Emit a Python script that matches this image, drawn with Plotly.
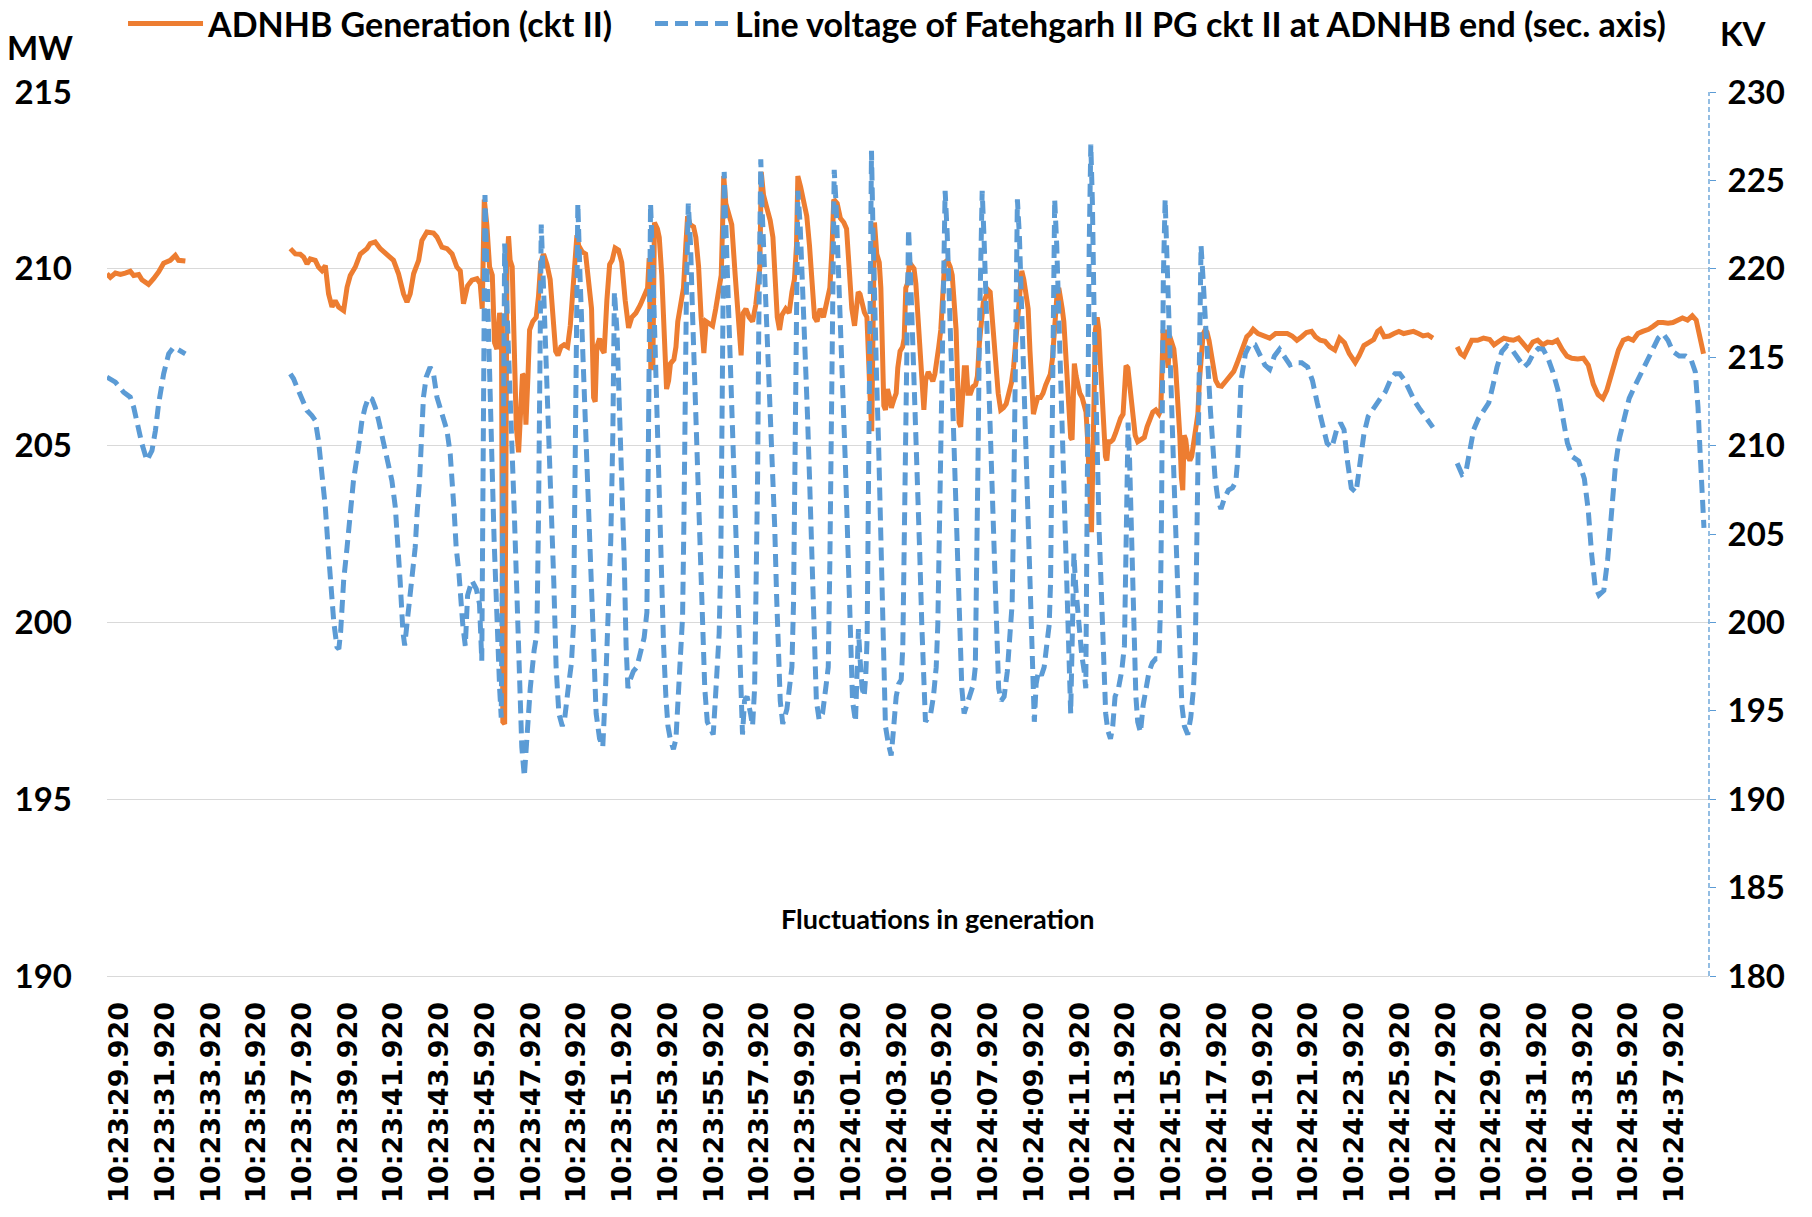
import plotly.graph_objects as go

# time in seconds after 10:22:59.520, None marks a gap in the record
gen_t = [
    29.86, 30.01, 30.23, 30.45, 30.66, 30.88, 31.03, 31.25, 31.39, 31.61, 31.68, 31.90, 32.12, 32.34, 32.63, 32.85, 32.99, 33.29,
    None,
    37.88, 38.10, 38.31, 38.46, 38.61, 38.75, 38.97, 39.11, 39.26, 39.41, 39.55, 39.70, 39.84, 39.99, 40.21, 40.36, 40.50, 40.72,
    40.94, 41.23, 41.37, 41.59, 41.81, 42.10, 42.39, 42.61, 42.83, 42.98, 43.12, 43.27, 43.49, 43.63, 43.85, 44.14, 44.29, 44.51,
    44.73, 44.95, 45.16, 45.31, 45.45, 45.63, 45.82, 46.04, 46.18, 46.27, 46.36, 46.47, 46.59, 46.71, 46.81, 46.91, 47.03, 47.11,
    47.17, 47.25, 47.29, 47.35, 47.42, 47.49, 47.58, 47.67, 47.76, 47.86, 47.96, 48.03, 48.11, 48.18, 48.27, 48.34, 48.48, 48.63,
    48.73, 48.83, 48.95, 49.10, 49.24, 49.36, 49.48, 49.58, 49.71, 49.85, 50.00, 50.12, 50.23, 50.33, 50.41, 50.49, 50.64, 50.79,
    50.93, 51.05, 51.14, 51.21, 51.28, 51.40, 51.50, 51.60, 51.72, 51.84, 51.95, 52.08, 52.23, 52.37, 52.52, 52.67, 52.81, 52.99,
    53.18, 53.35, 53.50, 53.57, 53.64, 53.73, 53.80, 53.93, 54.01, 54.12, 54.23, 54.33, 54.42, 54.50, 54.65, 54.74, 54.82, 54.94,
    55.07, 55.17, 55.25, 55.36, 55.51, 55.61, 55.73, 55.84, 55.96, 56.06, 56.21, 56.34, 56.48, 56.63, 56.72, 56.78, 56.83, 56.92,
    57.04, 57.18, 57.33, 57.48, 57.59, 57.68, 57.80, 57.94, 58.09, 58.23, 58.35, 58.41, 58.47, 58.57, 58.71, 58.86, 58.98, 59.08,
    59.17, 59.27, 59.37, 59.54, 59.69, 59.81, 59.92, 60.01, 60.07, 60.19, 60.32, 60.46, 60.58, 60.68, 60.80, 60.91, 61.04, 61.19,
    61.34, 61.47, 61.56, 61.64, 61.79, 61.93, 62.08, 62.20, 62.31, 62.43, 62.55, 62.62, 62.71, 62.79, 62.88, 62.98, 63.09, 63.16,
    63.23, 63.30, 63.36, 63.42, 63.52, 63.63, 63.70, 63.76, 63.83, 63.90, 63.99, 64.08, 64.16, 64.27, 64.37, 64.44, 64.54, 64.65,
    64.72, 64.79, 64.86, 64.95, 65.07, 65.15, 65.23, 65.30, 65.39, 65.48, 65.58, 65.66, 65.77, 65.87, 65.97, 66.06, 66.14, 66.23,
    66.32, 66.41, 66.49, 66.61, 66.73, 66.82, 66.90, 66.99, 67.05, 67.12, 67.19, 67.27, 67.35, 67.44, 67.51, 67.62, 67.72, 67.84,
    67.92, 68.01, 68.10, 68.18, 68.30, 68.39, 68.48, 68.56, 68.65, 68.74, 68.83, 68.94, 69.06, 69.18, 69.29, 69.41, 69.50, 69.57,
    69.64, 69.71, 69.79, 69.86, 69.95, 70.05, 70.14, 70.22, 70.30, 70.37, 70.46, 70.56, 70.68, 70.79, 70.91, 71.11, 71.20, 71.26,
    71.33, 71.41, 71.48, 71.55, 71.63, 71.70, 71.77, 71.84, 71.92, 72.00, 72.06, 72.12, 72.16, 72.24, 72.31, 72.40, 72.50, 72.59,
    72.67, 72.73, 72.79, 72.85, 72.91, 72.97, 73.02, 73.08, 73.16, 73.23, 73.30, 73.37, 73.45, 73.52, 73.58, 73.65, 73.75, 73.85,
    73.96, 74.06, 74.18, 74.29, 74.36, 74.42, 74.50, 74.57, 74.64, 74.73, 74.82, 74.93, 75.08, 75.22, 75.34, 75.46, 75.59, 75.72,
    75.86, 75.94, 75.98, 76.04, 76.11, 76.19, 76.26, 76.33, 76.42, 76.51, 76.59, 76.68, 76.77, 76.84, 76.90, 76.96, 77.03, 77.12,
    77.21, 77.29, 77.38, 77.47, 77.56, 77.63, 77.70, 77.79, 77.88, 77.96, 78.05, 78.14, 78.24, 78.34, 78.46, 78.60, 78.78, 78.95,
    79.13, 79.27, 79.42, 79.57, 79.70, 79.85, 79.98, 80.19, 80.45, 80.70, 80.96, 81.21, 81.47, 81.68, 81.89, 82.10, 82.31, 82.53,
    82.70, 82.91, 83.12, 83.33, 83.55, 83.76, 83.97, 84.18, 84.44, 84.61, 84.82, 85.03, 85.25, 85.42, 85.54, 85.71, 85.93, 86.14,
    86.35, 86.56, 86.78, 86.99, 87.20, 87.41, 87.62, 87.84,
    None,
    88.90, 89.05, 89.20, 89.37, 89.54, 89.79, 90.05, 90.32, 90.51, 90.73, 90.94, 91.15, 91.36, 91.58, 91.79, 92.00, 92.21, 92.42,
    92.64, 92.85, 93.06, 93.27, 93.49, 93.70, 93.91, 94.17, 94.42, 94.63, 94.85, 95.06, 95.27, 95.44, 95.61, 95.78, 95.95, 96.16,
    96.38, 96.59, 96.80, 97.01, 97.27, 97.48, 97.69, 97.90, 98.12, 98.33, 98.54, 98.75, 98.97, 99.18, 99.35, 99.52, 99.67,
]
gen_mw = [
    209.86, 209.76, 209.88, 209.84, 209.88, 209.93, 209.81, 209.84, 209.69, 209.59, 209.56, 209.72, 209.91, 210.16, 210.24, 210.38, 210.24, 210.22,
    None,
    210.57, 210.42, 210.41, 210.33, 210.14, 210.28, 210.24, 210.05, 209.95, 210.09, 209.29, 208.92, 209.10, 208.92, 208.82, 209.48, 209.81, 210.05,
    210.42, 210.57, 210.71, 210.76, 210.57, 210.42, 210.24, 209.86, 209.29, 209.06, 209.29, 209.86, 210.24, 210.80, 211.04, 211.01, 210.90, 210.61,
    210.57, 210.42, 210.05, 209.94, 209.01, 209.52, 209.68, 209.72, 209.58, 208.87, 211.96, 211.25, 210.06, 209.82, 207.91, 207.73, 208.75, 208.51,
    197.19, 197.13, 207.67, 210.06, 210.92, 210.24, 210.06, 207.44, 205.53, 204.81, 206.48, 207.02, 206.96, 205.59, 206.96, 208.27, 208.51, 208.63,
    209.22, 210.18, 210.42, 210.12, 209.70, 208.87, 207.67, 207.55, 207.79, 207.85, 207.79, 208.39, 209.46, 210.30, 210.95, 210.65, 210.48, 210.42,
    209.58, 208.87, 206.36, 206.24, 207.79, 208.03, 207.73, 207.62, 209.11, 210.12, 210.24, 210.59, 210.53, 210.18, 209.11, 208.33, 208.63, 208.75,
    208.98, 209.28, 209.46, 210.30, 207.20, 207.20, 211.31, 211.13, 210.89, 209.82, 207.91, 206.60, 206.84, 207.32, 207.44, 207.79, 208.51, 208.98,
    209.46, 210.65, 211.49, 211.25, 211.19, 210.89, 210.06, 208.63, 207.62, 208.51, 208.45, 208.39, 208.87, 209.58, 209.82, 211.25, 212.62, 211.85,
    211.61, 211.25, 209.82, 208.51, 207.55, 208.75, 208.87, 208.63, 208.51, 208.98, 209.58, 210.06, 212.74, 212.08, 211.73, 211.37, 210.89, 209.82,
    208.63, 208.27, 208.69, 208.87, 208.75, 209.34, 209.70, 210.65, 212.62, 212.32, 211.85, 211.49, 210.65, 209.58, 208.63, 208.51, 208.87, 208.63,
    209.05, 209.46, 210.53, 211.96, 211.85, 211.43, 211.31, 211.13, 210.06, 208.87, 208.39, 208.87, 209.34, 209.28, 208.98, 208.77, 208.63, 206.96,
    206.36, 205.41, 208.87, 211.31, 210.42, 210.18, 209.46, 207.67, 206.13, 206.01, 206.60, 206.36, 206.07, 206.30, 206.48, 207.20, 207.67, 207.79,
    208.03, 209.46, 209.58, 210.18, 210.06, 210.00, 209.58, 208.75, 207.67, 206.60, 206.01, 206.84, 207.08, 206.96, 206.82, 207.02, 207.32, 207.79,
    208.27, 209.34, 210.18, 210.24, 210.06, 209.82, 209.11, 208.27, 206.96, 205.65, 205.53, 206.60, 207.20, 207.20, 206.48, 206.48, 206.66, 206.72,
    206.96, 207.91, 208.75, 209.05, 209.22, 209.40, 209.34, 208.63, 208.03, 207.32, 206.48, 206.01, 206.07, 206.18, 206.42, 206.78, 207.20, 207.67,
    208.27, 208.63, 209.34, 209.94, 209.70, 209.22, 208.87, 207.67, 206.48, 205.89, 206.13, 206.36, 206.36, 206.48, 206.72, 207.02, 207.44, 208.15,
    208.87, 209.34, 209.46, 209.22, 208.87, 208.51, 207.67, 206.72, 205.89, 205.23, 205.17, 206.24, 207.32, 206.96, 206.66, 206.48, 206.36, 206.18,
    205.95, 205.29, 204.10, 202.91, 202.55, 204.58, 206.96, 208.27, 208.63, 208.27, 207.32, 206.36, 205.41, 204.69, 204.58, 205.11, 205.11, 205.17,
    205.35, 205.59, 205.77, 205.89, 206.48, 207.26, 207.20, 206.84, 206.36, 205.77, 205.29, 205.11, 205.17, 205.23, 205.53, 205.71, 205.95, 206.01,
    205.89, 206.01, 207.44, 208.21, 208.21, 207.67, 207.20, 208.09, 207.91, 207.73, 207.20, 206.36, 205.29, 204.10, 203.74, 205.29, 205.17, 204.69,
    204.58, 204.69, 205.05, 205.41, 205.89, 206.84, 207.67, 208.15, 208.27, 208.21, 207.97, 207.61, 207.14, 206.84, 206.70, 206.68, 206.82, 206.96,
    207.10, 207.32, 207.61, 207.91, 208.08, 208.17, 208.29, 208.17, 208.10, 208.04, 208.17, 208.17, 208.17, 208.10, 207.98, 208.08, 208.20, 208.23,
    208.08, 207.98, 207.95, 207.79, 207.70, 208.04, 207.91, 207.60, 207.35, 207.54, 207.83, 207.91, 208.00, 208.23, 208.29, 208.08, 208.10, 208.17,
    208.23, 208.17, 208.20, 208.23, 208.17, 208.10, 208.13, 208.04,
    None,
    207.79, 207.60, 207.53, 207.79, 207.98, 207.98, 208.04, 208.00, 207.85, 207.95, 208.04, 208.00, 207.98, 208.04, 207.88, 207.72, 207.93, 207.98,
    207.85, 207.93, 207.91, 207.98, 207.72, 207.53, 207.47, 207.45, 207.47, 207.28, 206.74, 206.44, 206.33, 206.56, 206.94, 207.28, 207.70, 207.98,
    208.04, 207.98, 208.17, 208.23, 208.29, 208.38, 208.48, 208.48, 208.46, 208.48, 208.55, 208.61, 208.55, 208.67, 208.55, 208.10, 207.60,
]

volt_t = [
    29.86, 30.23, 30.59, 30.88, 31.03, 31.18, 31.39, 31.61, 31.83, 31.98, 32.12, 32.34, 32.56, 32.78, 32.99, 33.29,
    None,
    37.88, 38.02, 38.17, 38.39, 38.61, 38.82, 38.97, 39.11, 39.26, 39.41, 39.55, 39.62, 39.78, 39.92, 40.00, 40.08, 40.21, 40.36,
    40.50, 40.64, 40.86, 41.01, 41.15, 41.30, 41.45, 41.59, 41.74, 41.88, 42.03, 42.17, 42.32, 42.47, 42.54, 42.61, 42.68, 42.80,
    42.88, 42.97, 43.20, 43.34, 43.42, 43.53, 43.63, 43.70, 43.82, 43.99, 44.14, 44.29, 44.51, 44.73, 44.87, 44.97, 45.05, 45.13,
    45.25, 45.42, 45.53, 45.63, 45.82, 46.01, 46.15, 46.25, 46.30, 46.33, 46.39, 46.47, 46.59, 46.69, 46.79, 46.91, 47.03, 47.10,
    47.16, 47.20, 47.25, 47.35, 47.46, 47.57, 47.67, 47.78, 47.90, 48.00, 48.11, 48.22, 48.37, 48.54, 48.66, 48.73, 48.79, 48.85,
    48.95, 49.07, 49.18, 49.30, 49.40, 49.50, 49.62, 49.77, 49.88, 50.03, 50.17, 50.26, 50.32, 50.38, 50.45, 50.55, 50.67, 50.79,
    50.90, 51.02, 51.14, 51.25, 51.40, 51.54, 51.66, 51.78, 51.89, 51.98, 52.05, 52.16, 52.27, 52.37, 52.48, 52.56, 52.64, 52.74,
    52.88, 53.03, 53.20, 53.35, 53.47, 53.53, 53.57, 53.63, 53.73, 53.83, 53.93, 54.05, 54.12, 54.20, 54.30, 54.39, 54.49, 54.63,
    54.74, 54.82, 54.93, 55.03, 55.09, 55.14, 55.20, 55.28, 55.38, 55.47, 55.55, 55.65, 55.74, 55.83, 55.92, 56.00, 56.11, 56.25,
    56.37, 56.46, 56.54, 56.63, 56.70, 56.75, 56.81, 56.85, 56.92, 57.04, 57.16, 57.27, 57.37, 57.48, 57.56, 57.65, 57.74, 57.85,
    58.00, 58.09, 58.18, 58.25, 58.31, 58.36, 58.45, 58.52, 58.64, 58.76, 58.87, 58.98, 59.06, 59.14, 59.21, 59.30, 59.41, 59.59,
    59.70, 59.81, 59.88, 59.94, 60.00, 60.07, 60.17, 60.29, 60.39, 60.49, 60.58, 60.65, 60.72, 60.80, 60.88, 61.00, 61.15, 61.29,
    61.40, 61.47, 61.53, 61.58, 61.66, 61.74, 61.85, 61.95, 62.05, 62.15, 62.24, 62.31, 62.39, 62.46, 62.59, 62.65, 62.72, 62.79,
    62.88, 62.97, 63.04, 63.10, 63.14, 63.19, 63.23, 63.29, 63.35, 63.42, 63.51, 63.60, 63.67, 63.74, 63.81, 63.90, 64.02, 64.15,
    64.25, 64.37, 64.48, 64.59, 64.66, 64.72, 64.78, 64.83, 64.91, 64.99, 65.10, 65.20, 65.30, 65.40, 65.49, 65.56, 65.65, 65.77,
    65.88, 66.00, 66.12, 66.19, 66.25, 66.31, 66.38, 66.45, 66.51, 66.60, 66.68, 66.77, 66.87, 66.98, 67.06, 67.15, 67.24, 67.34,
    67.46, 67.60, 67.75, 67.83, 67.89, 67.95, 68.01, 68.07, 68.13, 68.21, 68.30, 68.40, 68.49, 68.59, 68.68, 68.77, 68.85, 68.96,
    69.09, 69.23, 69.35, 69.44, 69.50, 69.55, 69.61, 69.67, 69.76, 69.85, 69.93, 70.04, 70.12, 70.21, 70.28, 70.36, 70.41, 70.49,
    70.59, 70.72, 70.84, 70.97, 71.06, 71.12, 71.16, 71.20, 71.25, 71.30, 71.39, 71.47, 71.55, 71.64, 71.73, 71.80, 71.87, 71.95,
    72.00, 72.08, 72.14, 72.22, 72.30, 72.38, 72.48, 72.59, 72.66, 72.70, 72.75, 72.81, 72.88, 72.95, 73.02, 73.10, 73.17, 73.24,
    73.32, 73.39, 73.46, 73.53, 73.62, 73.74, 73.84, 73.94, 74.09, 74.23, 74.35, 74.41, 74.47, 74.51, 74.57, 74.64, 74.70, 74.77,
    74.85, 74.93, 75.05, 75.17, 75.28, 75.43, 75.57, 75.72, 75.86, 75.92, 75.97, 76.01, 76.05, 76.13, 76.21, 76.30, 76.39, 76.49,
    76.59, 76.68, 76.77, 76.86, 76.97, 77.12, 77.25, 77.37, 77.45, 77.51, 77.57, 77.63, 77.70, 77.79, 77.89, 77.99, 78.11, 78.21,
    78.31, 78.43, 78.57, 78.72, 78.90, 79.07, 79.22, 79.30, 79.45, 79.64, 79.85, 80.06, 80.28, 80.49, 80.70, 80.91, 81.13, 81.34,
    81.59, 81.85, 82.10, 82.36, 82.57, 82.78, 82.99, 83.21, 83.42, 83.63, 83.80, 83.95, 84.10, 84.27, 84.48, 84.65, 84.82, 85.01,
    85.20, 85.37, 85.54, 85.76, 85.97, 86.18, 86.39, 86.61, 86.82, 87.03, 87.28, 87.56, 87.84,
    None,
    88.90, 89.11, 89.28, 89.45, 89.62, 89.83, 90.07, 90.28, 90.47, 90.64, 90.85, 91.07, 91.28, 91.49, 91.66, 91.83, 92.02, 92.23,
    92.45, 92.66, 92.87, 93.08, 93.30, 93.51, 93.72, 93.93, 94.21, 94.46, 94.63, 94.78, 94.93, 95.10, 95.31, 95.48, 95.65, 95.82,
    95.99, 96.21, 96.42, 96.69, 96.97, 97.22, 97.48, 97.69, 97.90, 98.12, 98.33, 98.61, 98.88, 99.14, 99.31, 99.43, 99.52, 99.60,
    99.69,
]
volt_kv = [
    213.87, 213.59, 213.02, 212.74, 212.17, 211.23, 210.10, 209.15, 209.72, 210.85, 212.36, 214.06, 215.19, 215.57, 215.38, 215.19,
    None,
    214.06, 213.78, 213.30, 212.55, 211.98, 211.70, 211.42, 210.29, 208.59, 206.51, 203.87, 202.36, 200.00, 198.60, 198.50, 199.50, 202.36, 204.25,
    206.13, 208.02, 209.91, 211.42, 212.17, 212.74, 212.64, 212.17, 211.42, 210.66, 209.72, 208.96, 208.02, 206.51, 205.19, 204.25, 202.36, 199.50,
    198.70, 199.80, 202.36, 204.25, 206.13, 208.02, 210.85, 212.74, 213.87, 214.43, 214.06, 212.74, 211.79, 210.85, 209.53, 208.02, 206.13, 204.25,
    202.80, 199.86, 198.67, 201.53, 202.36, 201.89, 201.05, 197.83, 205.82, 215.35, 224.17, 220.12, 215.35, 209.39, 204.63, 199.86, 196.28, 194.62,
    201.05, 210.58, 221.43, 217.26, 212.49, 209.87, 206.29, 201.05, 195.57, 192.95, 191.28, 193.42, 196.28, 198.43, 199.38, 205.82, 215.35, 222.50,
    218.92, 214.87, 211.06, 207.01, 202.24, 197.47, 194.85, 194.14, 194.62, 196.28, 197.71, 199.86, 205.82, 214.16, 223.69, 219.40, 214.87, 210.58,
    207.01, 202.96, 198.67, 194.85, 193.42, 192.95, 196.28, 201.05, 204.63, 210.58, 218.69, 216.54, 212.49, 208.20, 203.43, 198.67, 196.28, 196.76,
    197.24, 197.47, 198.43, 199.14, 200.57, 208.20, 216.54, 223.69, 220.12, 215.35, 210.58, 205.82, 202.24, 198.67, 195.81, 194.14, 193.42, 192.83,
    193.42, 195.57, 198.67, 200.33, 205.82, 212.97, 218.92, 223.69, 221.31, 217.26, 214.16, 211.06, 207.72, 203.91, 199.86, 196.28, 194.38, 193.90,
    193.66, 195.57, 197.71, 199.38, 203.43, 210.58, 218.21, 225.48, 222.50, 217.73, 213.92, 210.11, 206.29, 201.53, 197.24, 193.66, 195.57, 195.81,
    194.85, 194.14, 196.28, 201.05, 208.20, 216.54, 226.19, 222.98, 218.92, 215.83, 212.49, 209.15, 205.34, 201.53, 198.19, 195.57, 194.26, 195.09,
    196.28, 197.47, 201.05, 208.20, 216.54, 224.41, 222.50, 218.92, 215.35, 211.77, 208.20, 204.63, 201.05, 197.95, 195.57, 194.50, 194.85, 196.28,
    197.47, 203.43, 211.77, 219.40, 225.60, 223.69, 220.12, 216.54, 212.73, 208.91, 205.10, 201.53, 198.19, 195.57, 194.38, 197.47, 199.62, 197.95,
    196.28, 195.81, 197.00, 199.14, 205.82, 214.16, 221.31, 226.67, 222.50, 217.73, 213.92, 210.11, 206.29, 202.00, 197.47, 194.14, 193.19, 192.47,
    193.90, 195.81, 196.52, 196.76, 198.67, 205.82, 212.97, 218.92, 222.26, 219.88, 216.07, 212.01, 208.20, 203.91, 199.86, 196.28, 194.38, 194.62,
    194.85, 195.81, 197.47, 199.86, 204.63, 210.58, 217.73, 222.98, 224.41, 222.02, 218.92, 215.35, 211.54, 207.49, 203.43, 199.38, 196.28, 194.85,
    195.33, 196.04, 196.52, 197.47, 202.24, 209.39, 216.54, 222.02, 224.41, 221.78, 218.21, 214.40, 210.58, 206.29, 202.24, 198.67, 196.28, 195.57,
    195.81, 197.24, 199.38, 201.05, 205.82, 212.97, 219.40, 223.93, 221.78, 218.21, 214.40, 210.11, 206.29, 202.48, 199.14, 196.28, 194.38, 196.52,
    197.24, 197.00, 197.47, 198.90, 199.86, 202.24, 207.01, 212.97, 218.92, 223.93, 221.31, 217.73, 214.16, 210.58, 206.77, 203.43, 199.86, 196.76,
    194.85, 199.86, 203.91, 202.00, 200.57, 199.14, 198.19, 197.24, 196.28, 203.43, 212.97, 221.31, 227.03, 223.69, 217.73, 211.77, 208.20, 205.34,
    202.48, 199.62, 196.76, 194.85, 193.90, 193.42, 194.14, 195.81, 196.28, 197.24, 198.67, 203.43, 209.39, 211.30, 209.39, 205.82, 202.24, 198.67,
    195.81, 194.38, 193.78, 195.33, 196.28, 197.24, 197.71, 197.95, 197.95, 200.57, 205.82, 212.97, 219.40, 223.93, 220.12, 216.54, 212.97, 209.15,
    205.34, 201.53, 197.95, 195.33, 194.14, 193.66, 194.62, 196.28, 198.67, 203.43, 209.39, 215.35, 221.31, 219.40, 216.78, 213.92, 212.01, 210.11,
    208.20, 207.01, 206.41, 207.01, 207.48, 207.60, 207.96, 209.15, 213.68, 215.20, 215.75, 215.70, 215.07, 214.56, 214.31, 215.07, 215.45, 215.07,
    214.56, 214.69, 214.69, 214.44, 213.68, 212.42, 211.15, 210.14, 209.89, 210.90, 211.28, 210.90, 209.13, 207.60, 207.36, 208.88, 210.65, 211.66,
    212.04, 212.42, 212.67, 213.05, 213.68, 214.06, 214.06, 213.68, 213.05, 212.54, 212.04, 211.53, 211.03,
    None,
    209.00, 208.37, 208.50, 209.89, 210.90, 211.53, 212.04, 212.42, 213.43, 214.44, 215.32, 215.65, 215.45, 215.07, 214.69, 214.44, 214.69, 215.20,
    215.50, 215.45, 214.94, 214.18, 213.17, 211.66, 210.14, 209.38, 209.13, 208.12, 206.35, 203.82, 202.05, 201.55, 201.80, 203.57, 206.35, 208.88,
    210.40, 211.66, 212.67, 213.43, 214.18, 214.94, 215.57, 216.08, 216.33, 215.95, 215.32, 215.07, 215.07, 214.81, 214.18, 212.16, 209.64, 207.11,
    205.34,
]

# label positions on the same time scale (10:23:29.920 is 30.40 s after 10:22:59.520)
tick_secs = [30.40, 32.40, 34.40, 36.40, 38.40, 40.40, 42.40, 44.40, 46.40, 48.40, 50.40, 52.40,
             54.40, 56.40, 58.40, 60.40, 62.40, 64.40, 66.40, 68.40, 70.40, 72.40, 74.40, 76.40,
             78.40, 80.40, 82.40, 84.40, 86.40, 88.40, 90.40, 92.40, 94.40, 96.40, 98.40]
tick_labels = ["10:23:29.920", "10:23:31.920", "10:23:33.920", "10:23:35.920", "10:23:37.920",
               "10:23:39.920", "10:23:41.920", "10:23:43.920", "10:23:45.920", "10:23:47.920",
               "10:23:49.920", "10:23:51.920", "10:23:53.920", "10:23:55.920", "10:23:57.920",
               "10:23:59.920", "10:24:01.920", "10:24:03.920", "10:24:05.920", "10:24:07.920",
               "10:24:09.920", "10:24:11.920", "10:24:13.920", "10:24:15.920", "10:24:17.920",
               "10:24:19.920", "10:24:21.920", "10:24:23.920", "10:24:25.920", "10:24:27.920",
               "10:24:29.920", "10:24:31.920", "10:24:33.920", "10:24:35.920", "10:24:37.920"]

ORANGE = "#ED7D31"
BLUE = "#5B9BD5"
GRID = "#D9D9D9"
big = dict(family="Lato", size=34, color="black", weight="bold")
ticks_font = dict(family="Lato", size=33, color="black", weight="bold")

fig = go.Figure()
fig.add_trace(go.Scatter(x=gen_t, y=gen_mw, mode="lines", name="ADNHB Generation (ckt II)",
                         line=dict(color=ORANGE, width=5), legendwidth=437))
fig.add_trace(go.Scatter(x=volt_t, y=volt_kv, mode="lines", yaxis="y2",
                         name="Line voltage of Fatehgarh II PG ckt II at ADNHB end (sec. axis)",
                         line=dict(color=BLUE, width=5, dash="13px,7px"), legendwidth=945))

fig.update_layout(
    width=1812, height=1217,
    margin=dict(l=107, r=103, t=92, b=241, autoexpand=False),
    paper_bgcolor="white", plot_bgcolor="white",
    font=dict(family="Lato", color="black"),
    showlegend=True,
    legend=dict(orientation="h", x=0.01, xanchor="left", y=1.077, yanchor="middle",
                font=big, itemwidth=75, bgcolor="rgba(0,0,0,0)"),
    xaxis=dict(range=[29.863, 99.91], tickmode="array", tickvals=tick_secs, ticktext=tick_labels,
               tickangle=-90, tickfont=dict(family="DejaVu Sans", size=27, color="black", weight="bold"),
               showgrid=False, zeroline=False, showline=True, linecolor=GRID, linewidth=1.3,
               ticks="", ticklabelstandoff=14),
    yaxis=dict(range=[190, 215], dtick=5, tick0=190, showgrid=True, gridcolor=GRID, gridwidth=1.3,
               zeroline=False, showline=False, ticks="", tickfont=ticks_font, ticklabelstandoff=34),
    yaxis2=dict(range=[180, 230], dtick=5, tick0=180, overlaying="y", side="right", showgrid=False,
                zeroline=False, showline=False, ticks="outside", ticklen=6, tickwidth=1.3,
                tickcolor=BLUE, tickfont=ticks_font, ticklabelstandoff=5),
    annotations=[
        dict(text="MW", xref="paper", yref="paper", x=-0.0418, y=1.051, showarrow=False,
             xanchor="center", yanchor="middle", font=ticks_font),
        dict(text="KV", xref="paper", yref="paper", x=1.0218, y=1.0667, showarrow=False,
             xanchor="center", yanchor="middle", font=ticks_font),
        dict(text="Fluctuations in generation", xref="paper", yref="paper", x=0.5187, y=0.0645,
             showarrow=False, xanchor="center", yanchor="middle",
             font=dict(family="Lato", size=27, color="black", weight="bold")),
    ],
    shapes=[dict(type="line", xref="paper", yref="paper", x0=1, x1=1, y0=0, y1=1,
                 line=dict(color=BLUE, width=1.3, dash="5px,3px"))],
)

fig.write_html("out.html", config={"displayModeBar": False},
               post_script="document.body.style.margin='0';document.body.style.overflow='hidden';")
